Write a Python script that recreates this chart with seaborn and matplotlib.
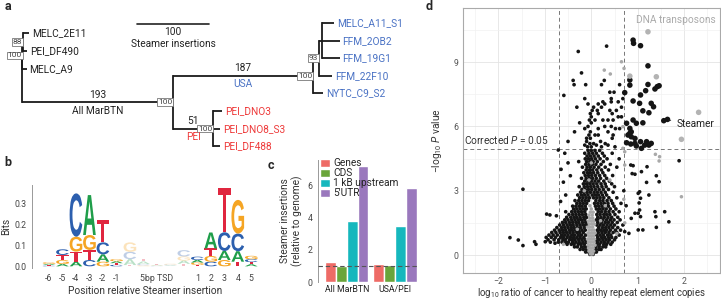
import numpy as np
import pandas as pd
import matplotlib
matplotlib.use("Agg")
import matplotlib.pyplot as plt
import seaborn as sns
from matplotlib.textpath import TextPath
from matplotlib.patches import PathPatch
from matplotlib.font_manager import FontProperties
from matplotlib.transforms import Affine2D
from matplotlib.ticker import MultipleLocator

sns.set_theme(style="white")
plt.rcParams["font.family"] = ["Roboto", "DejaVu Sans"]
plt.rcParams["mathtext.fontset"] = "custom"
plt.rcParams["mathtext.rm"] = "Roboto"
plt.rcParams["mathtext.it"] = "Roboto:italic"

BLUE = "#4a72c4"
RED = "#ee3b3b"
FS = 7.3      # main text size
FT = 6.3      # tick label size

# ---------------- a: tree ----------------
# node -> (parent, drawn branch length in Steamer insertions)
tree_edges = {
    "c3": ("root", 0.5), "c88": ("c3", 1.0), "mar": ("root", 210),
    "MELC_2E11": ("c88", 8), "PEI_DF490": ("c88", 6), "MELC_A9": ("c3", 6),
    "usa": ("mar", 194), "n93": ("usa", 8), "nsub": ("n93", 4),
    "MELC_A11_S1": ("nsub", 18), "FFM_2OB2": ("nsub", 25), "FFM_19G1": ("nsub", 25),
    "FFM_22F10": ("n93", 19), "NYTC_C9_S2": ("usa", 14),
    "pei": ("mar", 55), "PEI_DNO3": ("pei", 12.5), "PEI_DNO8_S3": ("pei", 10), "PEI_DF488": ("pei", 10),
}
tip_rows = {"MELC_2E11": 0.57, "PEI_DF490": 1.6, "MELC_A9": 2.6,
            "MELC_A11_S1": 0, "FFM_2OB2": 1, "FFM_19G1": 2, "FFM_22F10": 3, "NYTC_C9_S2": 4,
            "PEI_DNO3": 5, "PEI_DNO8_S3": 6, "PEI_DF488": 7}
tip_colors = {"MELC_2E11": "#222222", "PEI_DF490": "#222222", "MELC_A9": "#222222",
              "MELC_A11_S1": BLUE, "FFM_2OB2": BLUE, "FFM_19G1": BLUE, "FFM_22F10": BLUE,
              "NYTC_C9_S2": BLUE, "PEI_DNO3": RED, "PEI_DNO8_S3": RED, "PEI_DF488": RED}
supports = {"c88": "88", "c3": "100", "mar": "100", "usa": "100", "n93": "93", "pei": "100"}
branch_text = {"mar": ("193", "All MarBTN", "#222222"), "usa": ("187", "USA", BLUE), "pei": ("51", "PEI", RED)}
scale_len = 100

fig = plt.figure(figsize=(7.21, 2.99), dpi=100)

xpos = {"root": 0.0}
def get_x(n):
    if n not in xpos:
        p, l = tree_edges[n]
        xpos[n] = get_x(p) + l
    return xpos[n]
for n in tree_edges:
    get_x(n)
children = {}
for n, (p, l) in tree_edges.items():
    children.setdefault(p, []).append(n)
ypos = dict(tip_rows)
def get_y(n):
    if n not in ypos:
        ys = [get_y(c) for c in children[n]]
        ypos[n] = (min(ys) + max(ys)) / 2
    return ypos[n]
get_y("root")

ax_a = fig.add_axes([0, 1 - 155 / 299, 430 / 721, 155 / 299])
ax_a.set_xlim(-30.6, 566.7)
ax_a.set_ylim(7.5, -1.307)
ax_a.axis("off")
lc = "#1a1a1a"
for n, (p, l) in tree_edges.items():
    ax_a.plot([xpos[p], xpos[n]], [ypos[n], ypos[n]], color=lc, lw=1.3, solid_capstyle="butt")
for n, ch in children.items():
    ys = [ypos[c] for c in ch]
    ax_a.plot([xpos[n], xpos[n]], [min(ys), max(ys)], color=lc, lw=1.3, solid_capstyle="projecting")
for t, r in tip_rows.items():
    ax_a.text(xpos[t] + 4, r, t, fontsize=FS, color=tip_colors[t], va="center", ha="left")
for n, s in supports.items():
    ax_a.text(xpos[n] - 1, ypos[n], s, fontsize=6.0, color="#444444", va="center", ha="right",
              bbox=dict(boxstyle="square,pad=0.1", fc="white", ec="#777777", lw=0.6))
for n, (num, name, col) in branch_text.items():
    xm = (xpos[tree_edges[n][0]] + xpos[n]) / 2
    ax_a.text(xm, ypos[n] - 0.15, num, fontsize=FS, color="#222222", ha="center", va="bottom")
    ax_a.text(xm, ypos[n] + 0.2, name, fontsize=FS, color=col, ha="center", va="top")
ax_a.plot([160, 160 + scale_len], [0.06, 0.06], color="#222222", lw=1.2)
ax_a.text(210, 0.25, str(scale_len), fontsize=FS, ha="center", va="top", color="#222222")
ax_a.text(210, 0.9, "Steamer insertions", fontsize=FS, ha="center", va="top", color="#222222")

# ---------------- b: sequence logo ----------------
logo_labels = ["-6", "-5", "-4", "-3", "-2", "-1", "", "", "5bp TSD", "", "", "1", "2", "3", "4", "5"]
logo_A = [0.005, 0.011, 0.022, 0.190, 0.035, 0.009, 0.028, 0.012, 0.003, 0.003, 0.015, 0.012, 0.076, 0.043, 0.050, 0.010]
logo_C = [0.003, 0.027, 0.206, 0.030, 0.057, 0.007, 0.035, 0.006, 0.002, 0.003, 0.030, 0.016, 0.022, 0.089, 0.084, 0.014]
logo_G = [0.007, 0.019, 0.071, 0.071, 0.022, 0.010, 0.045, 0.005, 0.002, 0.004, 0.020, 0.011, 0.027, 0.030, 0.160, 0.016]
logo_T = [0.004, 0.024, 0.048, 0.048, 0.106, 0.008, 0.006, 0.014, 0.003, 0.002, 0.012, 0.007, 0.036, 0.210, 0.022, 0.010]
logo_faded = [6, 7, 8, 9, 10]
letter_colors = {"A": "#1f9e4a", "C": "#2c5fae", "G": "#f5a524", "T": "#e0263f"}

ax_b = fig.add_axes([32 / 721, 1 - 268 / 299, 226 / 721, 83 / 299])
fp = FontProperties(family="Liberation Sans", weight="bold")

def draw_letter(ax, ch, x, y0, h, color, alpha):
    tp = TextPath((0, 0), ch, size=1, prop=fp)
    bb = tp.get_extents()
    tr = (Affine2D().translate(-bb.x0, -bb.y0)
          .scale(0.94 / bb.width, h / bb.height).translate(x - 0.47, y0))
    ax.add_patch(PathPatch(tr.transform_path(tp), fc=color, lw=0, alpha=alpha))

for i in range(len(logo_labels)):
    stack = sorted(zip([logo_A[i], logo_C[i], logo_G[i], logo_T[i]], "ACGT"))
    y0 = 0.0
    alpha = 0.3 if i in logo_faded else 1.0
    for h, ch in stack:
        draw_letter(ax_b, ch, i, y0, h, letter_colors[ch], alpha)
        y0 += h
ax_b.set_xlim(-1.26, 15.5)
ax_b.set_ylim(-0.008, 0.387)
ax_b.set_xticks(range(len(logo_labels)))
ax_b.set_xticklabels(logo_labels)
ax_b.set_yticks([0, 0.1, 0.2, 0.3])
ax_b.set_yticklabels(["0.0", "0.1", "0.2", "0.3"])
for s in ["top", "right", "bottom"]:
    ax_b.spines[s].set_visible(False)
ax_b.spines["left"].set_color("#999999")
ax_b.spines["left"].set_linewidth(0.7)
ax_b.tick_params(axis="y", length=2, width=0.6, color="#999999", labelsize=FT, labelcolor="#444444", pad=2)
ax_b.tick_params(axis="x", length=0, labelsize=FT, labelcolor="#444444", pad=4)
ax_b.set_ylabel("Bits", fontsize=FS, color="#333333", labelpad=2)
ax_b.set_xlabel("Position relative Steamer insertion", fontsize=FS, color="#333333", labelpad=2.5)

# ---------------- c: bars ----------------
bar_groups = ["All MarBTN", "USA/PEI"]
bar_features = ["Genes", "CDS", "1 kB upstream", "5\u2032UTR"]
bar_values_all = [1.25, 0.97, 3.82, 7.2]
bar_values_usa = [1.1, 1.08, 3.5, 5.85]
bar_colors = ["#ee6b66", "#6aa53a", "#16b7bd", "#9a78bd"]

bar_df = pd.DataFrame({
    "group": [bar_groups[0]] * 4 + [bar_groups[1]] * 4,
    "feature": bar_features * 2,
    "value": bar_values_all + bar_values_usa,
})
ax_c = fig.add_axes([318 / 721, 1 - 282 / 299, 100 / 721, 122 / 299])
sns.barplot(data=bar_df, x="group", y="value", hue="feature", hue_order=bar_features,
            palette=bar_colors, width=0.9, saturation=1, ax=ax_c)
ax_c.axhline(1, color="#555555", lw=0.8, ls=(0, (4, 2.5)), zorder=5)
ax_c.set_xlim(-0.6, 1.48)
ax_c.set_ylim(0, 7.6)
ax_c.set_yticks([0, 2, 4, 6])
h, l = ax_c.get_legend_handles_labels()
ax_c.legend(h, l, loc="upper left", bbox_to_anchor=(0.0, 1.03), frameon=False, fontsize=FS,
            handlelength=0.95, handleheight=0.95, handletextpad=0.35, labelspacing=0.0,
            borderaxespad=0.1, borderpad=0.1)
for s in ["top", "right", "bottom"]:
    ax_c.spines[s].set_visible(False)
ax_c.spines["left"].set_color("#999999")
ax_c.spines["left"].set_linewidth(0.7)
ax_c.tick_params(axis="y", length=2, width=0.6, color="#999999", labelsize=FT, labelcolor="#444444", pad=2)
ax_c.tick_params(axis="x", length=0, labelsize=FT, labelcolor="#222222", pad=2)
ax_c.set_xlabel("")
ax_c.set_ylabel("Steamer insertions\n(relative to genome)", fontsize=FS, color="#333333", labelpad=3)

# ---------------- d: volcano ----------------
# dense cloud of non-significant repeats, one row per -log10 P level
core_rows = [
    (0.03, [-0.03, 0.04]),
    (0.14, [-0.12, -0.06, 0.07, 0.11]),
    (0.26, [-0.24, -0.17, -0.1, 0.09, 0.16, 0.21]),
    (0.38, [-0.36, -0.3, -0.21, -0.14, -0.08, 0.1, 0.17, 0.25, 0.31]),
    (0.5, [-0.52, -0.43, -0.37, -0.28, -0.22, -0.15, 0.12, 0.18, 0.27, 0.33, 0.42]),
    (0.6, [-0.88, -0.71, -0.63, -0.55, -0.49, -0.4, -0.33, -0.26, -0.18, -0.11, 0.13, 0.21, 0.28, 0.36, 0.45]),
    (0.71, [-0.93, -0.8, -0.7, -0.61, -0.56, -0.47, -0.41, -0.35, -0.27, -0.2, -0.13, 0.11, 0.17, 0.25, 0.32, 0.39, 0.5]),
    (0.82, [-0.97, -0.86, -0.77, -0.66, -0.6, -0.52, -0.45, -0.38, -0.31, -0.24, -0.16, 0.14, 0.22, 0.29, 0.37, 0.44, 0.53]),
    (0.93, [-0.91, -0.82, -0.73, -0.64, -0.57, -0.5, -0.42, -0.36, -0.28, -0.21, -0.12, 0.12, 0.19, 0.26, 0.35, 0.42, 0.6]),
    (1.05, [-0.85, -0.76, -0.67, -0.6, -0.53, -0.46, -0.39, -0.31, -0.25, -0.17, 0.15, 0.23, 0.3, 0.38, 0.47, 0.55]),
    (1.16, [-0.79, -0.69, -0.62, -0.55, -0.47, -0.41, -0.34, -0.27, -0.2, -0.13, 0.13, 0.2, 0.27, 0.33, 0.41, 0.52, 0.63]),
    (1.28, [-0.74, -0.64, -0.57, -0.5, -0.43, -0.37, -0.3, -0.23, -0.15, 0.16, 0.24, 0.31, 0.38, 0.46, 0.57]),
    (1.4, [-0.68, -0.6, -0.52, -0.45, -0.39, -0.31, -0.24, -0.17, -0.1, 0.12, 0.19, 0.26, 0.34, 0.42, 0.5, 0.68]),
    (1.52, [-0.62, -0.55, -0.47, -0.4, -0.33, -0.27, -0.19, -0.12, 0.14, 0.22, 0.3, 0.37, 0.45, 0.56]),
    (1.64, [-0.57, -0.5, -0.42, -0.35, -0.28, -0.21, -0.14, 0.11, 0.18, 0.25, 0.33, 0.41, 0.49, 0.62]),
    (1.76, [-0.53, -0.44, -0.37, -0.31, -0.24, -0.16, -0.1, 0.14, 0.21, 0.28, 0.36, 0.44, 0.57]),
    (1.89, [-0.48, -0.4, -0.33, -0.26, -0.19, -0.12, 0.12, 0.19, 0.27, 0.33, 0.4, 0.51]),
    (2.02, [-0.55, -0.42, -0.35, -0.28, -0.21, -0.14, 0.15, 0.22, 0.3, 0.38, 0.47, 0.6]),
    (2.15, [-0.38, -0.31, -0.24, -0.17, -0.11, 0.11, 0.18, 0.25, 0.32, 0.41, 0.53]),
    (2.28, [-0.4, -0.33, -0.26, -0.2, -0.13, 0.09, 0.16, 0.23, 0.29, 0.37, 0.49]),
    (2.41, [-0.31, -0.24, -0.17, -0.1, 0.07, 0.14, 0.21, 0.28, 0.36, 0.46, 0.64]),
    (2.54, [-0.35, -0.27, -0.2, -0.13, -0.06, 0.1, 0.18, 0.25, 0.34, 0.43]),
    (2.67, [-0.25, -0.18, -0.11, -0.04, 0.05, 0.12, 0.19, 0.27, 0.38, 0.55]),
    (2.8, [-0.29, -0.21, -0.14, -0.07, 0.02, 0.09, 0.16, 0.24, 0.33]),
    (2.93, [-0.23, -0.16, -0.09, -0.02, 0.06, 0.13, 0.21, 0.3, 0.47]),
    (3.06, [-0.2, -0.13, -0.06, 0.01, 0.09, 0.17, 0.26, 0.37]),
    (3.19, [-0.26, -0.15, -0.08, -0.01, 0.06, 0.14, 0.23, 0.32, 0.5]),
    (3.32, [-0.17, -0.1, -0.03, 0.04, 0.12, 0.21, 0.3, 0.44]),
    (3.45, [-0.14, -0.07, 0.0, 0.08, 0.16, 0.27, 0.39]),
    (3.58, [-0.21, -0.11, -0.04, 0.03, 0.11, 0.2, 0.33]),
    (3.71, [-0.13, -0.06, 0.01, 0.09, 0.18, 0.29, 0.46]),
    (3.84, [-0.16, -0.08, -0.02, 0.05, 0.14, 0.25]),
    (3.97, [-0.11, -0.04, 0.03, 0.12, 0.22, 0.37]),
    (4.1, [-0.19, -0.09, -0.02, 0.06, 0.16, 0.3, 0.55]),
    (4.23, [-0.12, -0.05, 0.02, 0.1, 0.21, 0.41]),
    (4.36, [-0.27, -0.1, -0.03, 0.04, 0.13, 0.26]),
    (4.49, [-0.13, -0.06, 0.01, 0.09, 0.19, 0.34, 0.6]),
    (4.62, [-0.09, -0.02, 0.06, 0.15, 0.28]),
    (4.75, [-0.14, -0.05, 0.03, 0.11, 0.24, 0.45]),
    (4.88, [-0.07, 0.0, 0.08, 0.18]),
]
# scattered non-significant repeats outside the dense cloud
side_x = [-1.75, -1.57, -1.47, -1.22, -1.19, -0.96, -0.89, -0.75, -1.47, -0.99, -0.78, -0.66, -0.55, -0.6, -0.45,
          -0.65, -0.5, -0.57, -0.71, 1.4, 1.58, 1.67, 1.37, 1.39, 1.11, 1.01, 0.81, 0.72, 1.04, 1.01, 1.06, 0.94,
          0.86, 1.24, 1.04, 1.01, 1.06, 1.03, 1.4, 1.46, 1.19, 1.08, 0.94, 0.88, 1.2, 0.9, 0.85, 1.89, 0.75, 0.7]
side_y = [0.81, 0.7, 0.44, 0.62, 0.5, 1.91, 1.87, 1.83, 3.07, 0.62, 0.55, 2.5, 2.8, 3.4, 3.7,
          4.0, 4.3, 4.75, 4.9, 1.29, 2.02, 1.55, 2.02, 1.79, 1.17, 1.17, 1.01, 1.09, 2.1, 1.95, 1.79, 1.95,
          1.71, 2.8, 2.95, 2.88, 2.65, 2.43, 3.7, 3.42, 3.39, 3.89, 3.77, 3.8, 4.12, 4.17, 4.2, 4.4, 2.3, 3.0]
# above the threshold but fold change below 5x
upper_x = [-0.08, 0.0, 0.22, 0.51, -0.14, 0.11, 0.36, -0.03, 0.05, 0.3, -0.5, -0.1, 0.2, -0.1, -0.02, 0.45,
           -0.05, 0.15, 0.47, 0.08, -0.36, -0.02, 0.36, -0.14, 0.15, 0.52, 0.61, 0.29, 0.43, -0.07, -0.25, 0.0,
           0.08, 0.25, 0.36, 0.47, -0.04, 0.58, 0.65, 0.0, 0.15, 0.45, -0.02, 0.13, 0.4, 0.54, 0.02, -0.31, 0.22,
           0.65, 0.05, -0.07, 0.15, 0.29, 0.25, 0.43, 0.58, -0.14, 0.43, 0.68, -0.59, 0.4, 0.49, -0.37, -0.12,
           0.22, 0.61, -0.39, 0.28, -0.21, -0.28, 0.33]
upper_y = [5.05, 5.05, 5.05, 5.05, 5.13, 5.13, 5.13, 5.2, 5.2, 5.2, 5.3, 5.3, 5.3, 5.45, 5.45, 5.45,
           5.6, 5.6, 5.6, 5.6, 5.75, 5.75, 5.75, 5.9, 5.9, 5.9, 5.9, 6.0, 6.0, 6.0, 6.17, 6.17,
           6.3, 6.3, 6.3, 6.3, 6.3, 6.45, 6.45, 6.45, 6.6, 6.6, 6.6, 6.75, 6.75, 6.75, 6.75, 6.9, 6.9,
           6.9, 6.9, 7.05, 7.05, 7.05, 7.15, 7.15, 7.15, 7.3, 7.3, 7.3, 7.45, 7.6, 7.6, 7.95, 7.95,
           7.95, 7.95, 8.15, 8.15, 8.5, 9.5, 9.75]
# significant repeats (>5x, corrected P < 0.05)
sig_x = [0.9, 0.91, 1.06, 1.22, 0.83, 1.22, 0.83, 1.37, 1.42, 1.46, 1.17, 0.72, 1.06, 0.9, 1.04, 1.29, 1.34,
         1.11, 1.24, 0.97, 0.76, 1.11, 0.9, 1.56, 1.64, 0.83, 0.86, 0.79, 0.94, 0.83, 0.86, 0.76, 0.85, 0.97,
         1.08, 1.19, 1.24, 1.29, 0.94, 1.06, 1.15]
sig_y = [10.03, 9.88, 9.77, 8.83, 8.17, 7.96, 7.93, 7.75, 7.86, 7.9, 7.67, 7.58, 7.47, 7.19, 7.08, 7.08, 6.92,
         6.73, 6.64, 6.15, 6.15, 6.17, 6.3, 6.27, 6.33, 5.91, 5.75, 5.6, 5.44, 5.68, 5.52, 5.24, 5.18, 5.09,
         4.98, 5.29, 5.13, 5.21, 5.21, 5.29, 5.13]
# DNA transposons
dna_rows = [
    (0.05, [-0.02, 0.03]), (0.18, [-0.05, 0.0, 0.05]), (0.32, [-0.06, -0.01, 0.04]),
    (0.46, [-0.07, -0.02, 0.03, 0.08]), (0.6, [-0.06, -0.01, 0.05]), (0.74, [-0.08, -0.03, 0.02, 0.07]),
    (0.88, [-0.05, 0.0, 0.05]), (1.02, [-0.07, -0.02, 0.03, 0.08]), (1.16, [-0.05, 0.01, 0.06]),
    (1.3, [-0.08, -0.03, 0.03]), (1.44, [-0.04, 0.02, 0.07]), (1.58, [-0.06, 0.0, 0.05]),
    (1.72, [-0.03, 0.03]), (1.86, [-0.05, 0.02]), (2.0, [-0.02, 0.04]), (2.15, [0.0]), (2.3, [-0.03]),
]
dna_x = [0.65, 0.28, 0.705, 0.41, 0.68, 0.68, 0.72, 1.47, 1.46, 1.38, 1.94, -0.3, 0.3, -0.15, 0.2, 0.55,
         0.72, 0.7, -0.6, 0.4, 0.0, 0.72, -0.05]
dna_y = [9.02, 8.63, 8.71, 8.45, 5.99, 4.98, 4.82, 4.59, 4.39, 4.7, 2.72, 1.2, 2.3, 3.0, 1.6, 1.0,
         1.5, 2.6, 0.5, 3.5, 4.3, 4.2, 3.5]
dna_sig_x = [1.22, 0.83, 1.4, 2.31, 1.94]
dna_sig_y = [10.42, 8.35, 8.32, 6.66, 5.4]
fc_cut = 0.699
p_cut = 4.95

rows = []
for y, xs in core_rows:
    rows += [(x, y, "other") for x in xs]
rows += [(x, y, "other") for x, y in zip(side_x, side_y)]
rows += [(x, y, "other") for x, y in zip(upper_x, upper_y)]
for y, xs in dna_rows:
    rows += [(x, y, "dna") for x in xs]
rows += [(x, y, "dna") for x, y in zip(dna_x, dna_y)]
rows += [(x, y, "other_sig") for x, y in zip(sig_x, sig_y)]
rows += [(x, y, "dna_sig") for x, y in zip(dna_sig_x, dna_sig_y)]
vol = pd.DataFrame(rows, columns=["x", "y", "kind"])

ax_d = fig.add_axes([463 / 721, 1 - 273 / 299, 257 / 721, 265 / 299])
sns.scatterplot(data=vol, x="x", y="y", hue="kind", size="kind",
                palette={"other": "#151515", "dna": "#a9a9a9", "other_sig": "#151515", "dna_sig": "#b3b3b3"},
                sizes={"other": 7, "dna": 6.5, "other_sig": 16, "dna_sig": 16},
                linewidth=0, legend=False, ax=ax_d, zorder=3)
ax_d.set_xlim(-2.76, 2.77)
ax_d.set_ylim(-0.84, 11.53)
ax_d.xaxis.set_major_locator(MultipleLocator(1))
ax_d.xaxis.set_minor_locator(MultipleLocator(0.5))
ax_d.yaxis.set_major_locator(MultipleLocator(3))
ax_d.yaxis.set_minor_locator(MultipleLocator(1.5))
ax_d.grid(which="major", color="#e4e4e4", lw=0.6)
ax_d.grid(which="minor", color="#f1f1f1", lw=0.5)
ax_d.set_axisbelow(True)
for v in (-fc_cut, fc_cut):
    ax_d.axvline(v, color="#777777", lw=0.7, ls=(0, (4, 3)), zorder=2)
ax_d.axhline(p_cut, color="#777777", lw=0.7, ls=(0, (4, 3)), zorder=2)
for s in ax_d.spines.values():
    s.set_color("#aaaaaa")
    s.set_linewidth(0.8)
ax_d.tick_params(which="major", length=2, width=0.6, color="#999999", labelsize=FT, labelcolor="#555555", pad=1)
ax_d.tick_params(which="minor", length=0)
ax_d.set_xlabel("log$_{10}$ ratio of cancer to healthy repeat element copies", fontsize=6.9, color="#333333")
ax_d.xaxis.set_label_coords(0.5, -0.045)
ax_d.set_ylabel("\u2212log$_{10}$ $P$ value", fontsize=FS, color="#333333", labelpad=7)
ax_d.text(-2.74, p_cut + 0.12, "Corrected $P$ = 0.05", fontsize=FS, color="#333333", ha="left", va="bottom")
ax_d.text(2.68, 10.97, "DNA transposons", fontsize=FS, color="#aaaaaa", ha="right", va="center")
ax_d.annotate("Steamer", xy=(1.66, 6.3), xytext=(1.84, 6.12), fontsize=FS, color="#222222",
              va="center", ha="left", arrowprops=dict(arrowstyle="-", color="#222222", lw=0.6))

# panel letters
for lab, x, y in [("a", 0.006, 0.977), ("b", 0.006, 0.458), ("c", 0.371, 0.448), ("d", 0.591, 0.977)]:
    fig.text(x, y, lab, fontsize=9, fontweight="bold", va="center", ha="left")

fig.savefig("out.png", dpi=100)
